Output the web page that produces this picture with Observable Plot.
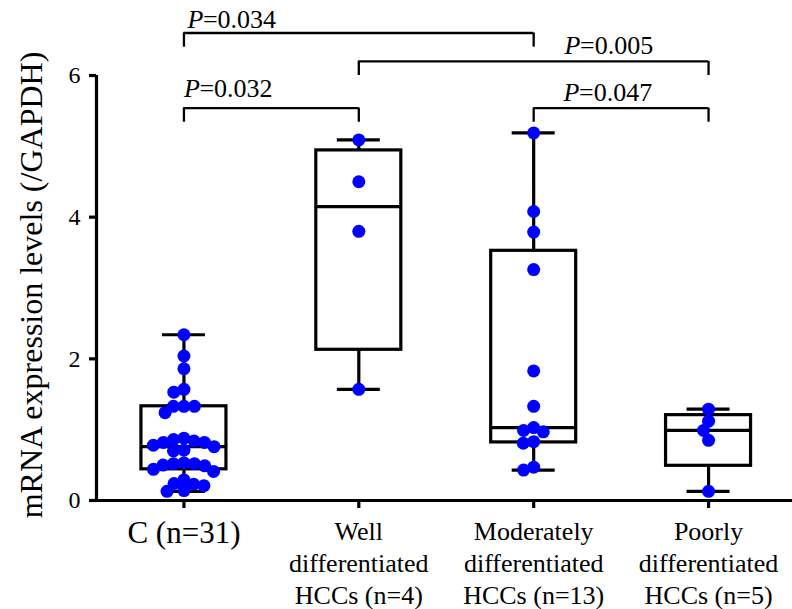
<!DOCTYPE html>
<html><head><meta charset="utf-8">
<script src="https://cdn.jsdelivr.net/npm/d3@7"></script>
<script src="https://cdn.jsdelivr.net/npm/@observablehq/plot@0.6"></script>
<style>body{margin:0;background:#fff}</style>
</head><body><div id="chart"></div>
<script>
// ---- data ----
const categories = ["C (n=31)", "Well\ndifferentiated\nHCCs (n=4)", "Moderately\ndifferentiated\nHCCs (n=13)", "Poorly\ndifferentiated\nHCCs (n=5)"];
const controlValues = [2.34, 2.04, 1.86, 1.53, 1.57, 1.33, 1.33, 1.33, 1.24,
  0.88, 0.84, 0.82, 0.76, 0.70, 0.71, 0.78, 0.82, 0.86,
  0.52, 0.50, 0.44, 0.41, 0.49, 0.52, 0.53,
  0.24, 0.21, 0.13, 0.14, 0.23, 0.29];
const wellValues = [5.09, 4.50, 3.80, 1.57];
const moderateValues = [5.19, 4.08, 3.79, 3.26, 1.83, 1.33, 0.99, 0.97, 1.03, 0.83, 0.81, 0.43, 0.47];
const poorValues = [1.29, 1.12, 0.99, 0.85, 0.13];
const yTicks = [0, 2, 4, 6];
const comparisons = [
  {from: 0, to: 2, p: "=0.034", top: 6.60, leg: 6.40, textX: 0.02, textY: 6.674},
  {from: 1, to: 3, p: "=0.005", top: 6.20, leg: 6.00, textX: 2.176, textY: 6.307},
  {from: 0, to: 1, p: "=0.032", top: 5.54, leg: 5.34, textX: 0.0, textY: 5.694},
  {from: 2, to: 3, p: "=0.047", top: 5.54, leg: 5.34, textX: 2.171, textY: 5.647}
];
const yLabel = "mRNA expression levels (/GAPDH)";

// ---- layout ----
const W = 792, H = 609, mL = 96, mR = 0, mT = 75, mB = 109;
const xDomain = [-0.5, 3.48], yDomain = [0, 6];
const pxPerX = (W - mL - mR) / (xDomain[1] - xDomain[0]);
const yPx = v => (H - mB) - (v - yDomain[0]) / (yDomain[1] - yDomain[0]) * (H - mB - mT);
const boxHalf = 42.5 / pxPerX, capHalf = 21.5 / pxPerX;
const ink = "#000", lw = 3.2;
const font = "Liberation Serif, Times New Roman, Times, serif";

const groups = [controlValues, wellValues, moderateValues, poorValues];

// quartiles (n+1)p method
function quant(sorted, p) {
  const n = sorted.length, pos = (n + 1) * p, lo = Math.floor(pos), f = pos - lo;
  if (lo < 1) return sorted[0];
  if (lo >= n) return sorted[n - 1];
  return sorted[lo - 1] + f * (sorted[lo] - sorted[lo - 1]);
}
const stats = groups.map((vals, i) => {
  const s = vals.slice().sort((a, b) => a - b);
  return {i, min: s[0], max: s[s.length - 1], q1: quant(s, 0.25), med: quant(s, 0.5), q3: quant(s, 0.75)};
});

// beeswarm layout
function swarm(values, idx) {
  const D = 10.5, placed = [], out = [];
  const order = values.map((v, k) => k).sort((a, b) => values[b] - values[a]);
  for (const k of order) {
    const y = yPx(values[k]);
    const cands = [0];
    for (const p of placed) {
      const dy = Math.abs(p.y - y);
      if (dy < D) { const w = Math.sqrt(D * D - dy * dy); cands.push(p.x + w, p.x - w); }
    }
    cands.sort((a, b) => Math.abs(a) - Math.abs(b) || a - b);
    const x = cands.find(c => placed.every(p => (p.x - c) ** 2 + (p.y - y) ** 2 >= D * D - 1e-6));
    placed.push({x, y});
    out.push({g: idx, v: values[k], x: idx + x / pxPerX});
  }
  return out;
}
const points = groups.flatMap((vals, i) => swarm(vals, i));

const legs = comparisons.flatMap(c => [{x: c.from, y1: c.leg, y2: c.top}, {x: c.to, y1: c.leg, y2: c.top}]);

const plot = Plot.plot({
  width: W, height: H,
  marginLeft: mL, marginRight: mR, marginTop: mT, marginBottom: mB,
  style: {fontFamily: font, background: "#fff", color: ink, overflow: "visible"},
  x: {domain: xDomain, axis: null},
  y: {domain: yDomain, axis: null},
  marks: [
    // axes
    Plot.axisY({ticks: yTicks, tickSize: 7, tickFormat: () => "", strokeWidth: lw, label: null}),
    Plot.text(yTicks, {x: () => xDomain[0], y: d => d, text: d => String(d), textAnchor: "end", dx: -16, fontSize: 24, fontFamily: font, fill: ink}),
    Plot.axisX({ticks: categories.map((_, i) => i), tickSize: 8, tickFormat: () => "", strokeWidth: lw, label: null}),
    Plot.ruleX([xDomain[0]], {y1: yDomain[0], y2: yDomain[1], stroke: ink, strokeWidth: lw}),
    Plot.ruleY([0], {x1: xDomain[0] - 6 / pxPerX, x2: xDomain[1], stroke: ink, strokeWidth: lw}),
    // whiskers
    Plot.ruleX(stats, {x: "i", y1: "q3", y2: "max", stroke: ink, strokeWidth: lw}),
    Plot.ruleX(stats, {x: "i", y1: "min", y2: "q1", stroke: ink, strokeWidth: lw}),
    Plot.ruleY(stats, {y: "max", x1: d => d.i - capHalf, x2: d => d.i + capHalf, stroke: ink, strokeWidth: lw}),
    Plot.ruleY(stats, {y: "min", x1: d => d.i - capHalf, x2: d => d.i + capHalf, stroke: ink, strokeWidth: lw}),
    // boxes
    Plot.rect(stats, {x1: d => d.i - boxHalf, x2: d => d.i + boxHalf, y1: "q1", y2: "q3", fill: "none", stroke: ink, strokeWidth: lw}),
    Plot.ruleY(stats, {y: "med", x1: d => d.i - boxHalf, x2: d => d.i + boxHalf, stroke: ink, strokeWidth: lw}),
    // points
    Plot.dot(points, {x: "x", y: "v", r: 6.5, fill: "#0000ff", stroke: null}),
    // brackets
    Plot.ruleY(comparisons, {y: "top", x1: "from", x2: "to", stroke: ink, strokeWidth: 2.3}),
    Plot.ruleX(legs, {x: "x", y1: "y1", y2: "y2", stroke: ink, strokeWidth: 2.3}),
    Plot.text(comparisons, {x: "textX", y: "textY", text: () => "P", textAnchor: "start", lineAnchor: "top", dy: -0.71 * 26, fontSize: 26, fontStyle: "italic", fontFamily: font, fill: ink}),
    Plot.text(comparisons, {x: "textX", y: "textY", text: "p", textAnchor: "start", lineAnchor: "top", dy: -0.71 * 26, dx: 15.5, fontSize: 26, fontFamily: font, fill: ink}),
    // category labels
    Plot.text(categories.slice(0, 1), {x: () => 0, y: () => 0, text: d => d, lineAnchor: "top", dy: 20.7, fontSize: 31, fontFamily: font, fill: ink}),
    Plot.text(categories.slice(1), {x: (d, i) => i + 1, y: () => 0, text: d => d, lineAnchor: "top", dy: 16.5, fontSize: 26, lineHeight: 32 / 26, fontFamily: font, fill: ink}),
    // y label
    Plot.text([yLabel], {frameAnchor: "left", text: d => d, rotate: -90, textAnchor: "middle", dx: -65, dy: -3, fontSize: 32, fontFamily: font, fill: ink})
  ]
});
document.getElementById("chart").appendChild(plot);
</script>
</body></html>
